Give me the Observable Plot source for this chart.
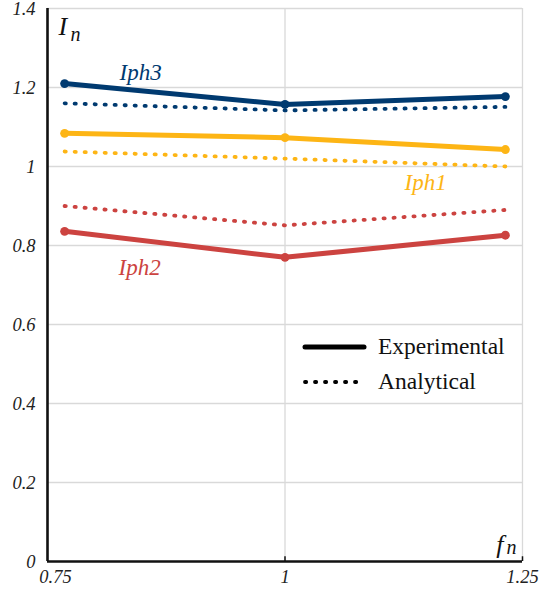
<!DOCTYPE html>
<html>
<head>
<meta charset="utf-8">
<script src="https://cdn.jsdelivr.net/npm/d3@7"></script>
<script src="https://cdn.jsdelivr.net/npm/@observablehq/plot@0.6"></script>
<style>
  html, body { margin: 0; padding: 0; background: #fff; }
  #wrap { position: relative; width: 542px; height: 596px; }
  #legend { position: absolute; left: 300px; top: 329px; font-family: "Liberation Serif", "Times New Roman", serif; font-size: 23.5px; color: #111; }
  #legend .row { display: flex; align-items: center; height: 35px; }
  #legend svg { margin-right: 10px; }
</style>
</head>
<body>
<div id="wrap"><div id="legend"></div></div>
<script>
// ---- data ----
const xValues = [0.768, 1, 1.232];
const seriesNames = ["Iph1", "Iph2", "Iph3"];
const iph1Exp = [1.084, 1.073, 1.043];
const iph1Ana = [1.038, 1.020, 1.000];
const iph2Exp = [0.836, 0.770, 0.826];
const iph2Ana = [0.900, 0.851, 0.890];
const iph3Exp = [1.210, 1.157, 1.177];
const iph3Ana = [1.160, 1.142, 1.151];
const xTicks = [0.75, 1, 1.25];
const yTicks = [0, 0.2, 0.4, 0.6, 0.8, 1, 1.2, 1.4];
const colors = {Iph1: "#fdb515", Iph2: "#cc4340", Iph3: "#003a70"};
const seriesLabels = [
  {name: "Iph3", x: 0.848, y: 1.237},
  {name: "Iph1", x: 1.148, y: 0.960},
  {name: "Iph2", x: 0.847, y: 0.745}
];
const legendItems = [{label: "Experimental", dash: null}, {label: "Analytical", dash: "1.2,8.8"}];

const expRows = [], anaRows = [];
const sets = {Iph1: [iph1Exp, iph1Ana], Iph2: [iph2Exp, iph2Ana], Iph3: [iph3Exp, iph3Ana]};
for (const s of seriesNames) {
  xValues.forEach((x, i) => {
    expRows.push({series: s, x, y: sets[s][0][i]});
    anaRows.push({series: s, x, y: sets[s][1][i]});
  });
}
const serif = "'Liberation Serif', 'Times New Roman', serif";
const tickStyle = {label: null, tickSize: 0, tickFormat: d => String(d),
  fontSize: 18.5, fontStyle: "italic", fontFamily: serif, fill: "#222"};

const chart = Plot.plot({
  width: 542,
  height: 596,
  marginLeft: 47,
  marginRight: 20,
  marginTop: 8,
  marginBottom: 35,
  style: {fontFamily: serif, background: "#fff"},
  x: {type: "linear", domain: [0.75, 1.25], axis: null},
  y: {type: "linear", domain: [0, 1.4], axis: null},
  color: {domain: seriesNames, range: seriesNames.map(s => colors[s])},
  marks: [
    Plot.ruleY(yTicks.filter(d => d > 0), {stroke: "#d9d9d9", strokeWidth: 1.3}),
    Plot.ruleX([1, 1.25], {stroke: "#d9d9d9", strokeWidth: 1.3}),
    Plot.axisY({...tickStyle, ticks: yTicks, tickPadding: 12, dy: 1}),
    Plot.axisX({...tickStyle, ticks: xTicks.slice(1), tickPadding: 8}),
    Plot.axisX({...tickStyle, ticks: xTicks.slice(0, 1), tickPadding: 8, dx: 8}),
    Plot.line(anaRows, {x: "x", y: "y", z: "series", stroke: "series", strokeWidth: 3.8,
      strokeDasharray: "1.2,8.8", strokeLinecap: "round"}),
    Plot.line(expRows, {x: "x", y: "y", z: "series", stroke: "series", strokeWidth: 5,
      strokeLinecap: "round", strokeLinejoin: "round"}),
    Plot.dot(expRows, {x: "x", y: "y", fill: "series", r: 4.4}),
    Plot.text(seriesLabels, {x: "x", y: "y", text: "name", fill: d => d.name,
      fontSize: 23, fontStyle: "italic", fontFamily: serif}),
    Plot.ruleX([0.75], {stroke: "#111", strokeWidth: 2.6}),
    Plot.ruleY([0], {stroke: "#111", strokeWidth: 2.6}),
    Plot.ruleX([1, 1.25], {y1: 0, y2: 0.012, stroke: "#111", strokeWidth: 1.5}),
    Plot.text(["I"], {frameAnchor: "top-left", dx: 11, dy: 8, fontSize: 26, fontStyle: "italic", fontFamily: serif, fill: "#111"}),
    Plot.text(["n"], {frameAnchor: "top-left", dx: 23, dy: 18, fontSize: 20, fontStyle: "italic", fontFamily: serif, fill: "#111"}),
    Plot.text(["f"], {frameAnchor: "bottom-right", dx: -19, dy: -9, fontSize: 26, fontStyle: "italic", fontFamily: serif, fill: "#111"}),
    Plot.text(["n"], {frameAnchor: "bottom-right", dx: -6, dy: -8, fontSize: 20, fontStyle: "italic", fontFamily: serif, fill: "#111"})
  ]
});
document.getElementById("wrap").prepend(chart);
chart.style.position = "absolute";
chart.style.left = "0";
chart.style.top = "0";

const legend = document.getElementById("legend");
for (const item of legendItems) {
  const row = document.createElement("div");
  row.className = "row";
  const ns = "http://www.w3.org/2000/svg";
  const svg = document.createElementNS(ns, "svg");
  svg.setAttribute("width", 68); svg.setAttribute("height", 10);
  const line = document.createElementNS(ns, "line");
  line.setAttribute("x1", 5); line.setAttribute("x2", 64);
  line.setAttribute("y1", 5); line.setAttribute("y2", 5);
  line.setAttribute("stroke", "#000");
  line.setAttribute("stroke-linecap", "round");
  line.setAttribute("stroke-width", item.dash ? 3.8 : 5);
  if (item.dash) line.setAttribute("stroke-dasharray", item.dash);
  svg.appendChild(line);
  row.appendChild(svg);
  const span = document.createElement("span");
  span.textContent = item.label;
  row.appendChild(span);
  legend.appendChild(row);
}
</script>
</body>
</html>
